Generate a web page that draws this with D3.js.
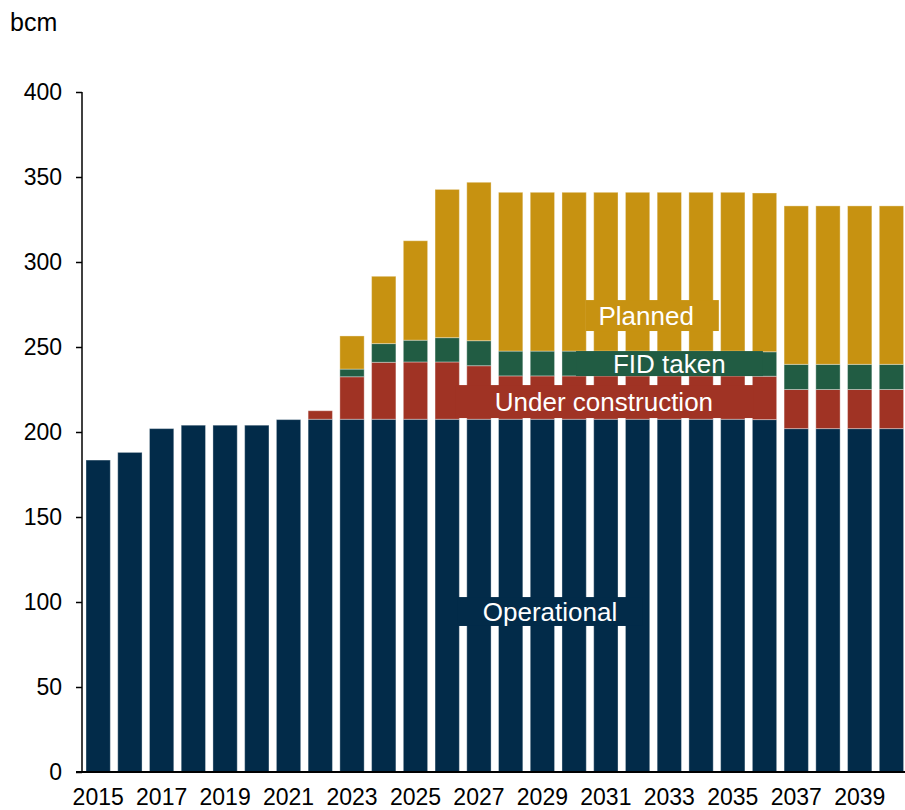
<!DOCTYPE html>
<html>
<head>
<meta charset="utf-8">
<script src="https://cdn.jsdelivr.net/npm/d3@7"></script>
<style>
html,body{margin:0;padding:0;background:#fff;}
svg{display:block;font-family:"Liberation Sans",Arial,sans-serif;}
</style>
</head>
<body>
<svg id="chart" width="905" height="810"></svg>
<script>
const years = d3.range(2015, 2041).map(String);
const operational = [183.5,188,202,204,204,204,207.3,207.5,207.5,207.5,207.5,207.5,207.5,207.5,207.5,207.5,207.5,207.5,207.5,207.5,207.5,207.3,202,202,202,202];
const underConstruction = [0,0,0,0,0,0,0,5,25,33.5,33.7,33.7,31.5,25.5,25.5,25.5,25.5,25.5,25.5,25.5,25.5,25.5,23,23,23,23];
const fidTaken = [0,0,0,0,0,0,0,0,4.5,11,12.8,14.3,14.7,14.6,14.6,14.6,14.6,14.6,14.6,14.6,14.6,14.4,14.8,14.8,14.8,14.8];
const planned = [0,0,0,0,0,0,0,0,19.5,39.6,58.5,87.2,93.2,93.4,93.4,93.4,93.4,93.4,93.4,93.4,93.4,93.4,93.2,93.2,93.2,93.2];
const seriesNames = ["Operational","Under construction","FID taken","Planned"];
const seriesColors = ["#022b49","#a03324","#215c43","#c79211"];
const yTicks = [0,50,100,150,200,250,300,350,400];
const xTickLabels = years.filter((d,i)=>i%2===0);
const unitLabel = "bcm";
// label boxes: centre index, extents in bar-index units, value extents
const seriesLabels = [
  {name:"Planned", i0:15.37, i1:19.56, ic:17.27, v0:259.4, v1:277.6},
  {name:"FID taken", i0:15.06, i1:20.95, ic:18.0, v0:232.9, v1:247.6},
  {name:"Under construction", i0:11.25, i1:20.64, ic:15.94, v0:208.2, v1:227.6},
  {name:"Operational", i0:11.34, i1:17.14, ic:14.24, v0:85.9, v1:102.9}
];

const svg = d3.select("#chart");
const x = d3.scaleBand().domain(years).range([82.3, 907.3]).paddingInner(0.234).paddingOuter(0.117);
const y = d3.scaleLinear().domain([0,400]).range([772, 92]);

const table = years.map((yr,i)=>({year:yr, "Operational":operational[i], "Under construction":underConstruction[i], "FID taken":fidTaken[i], "Planned":planned[i]}));
const stacked = d3.stack().keys(seriesNames)(table);

svg.append("g").selectAll("g").data(stacked).join("g")
  .attr("fill",(d,i)=>seriesColors[i])
  .selectAll("rect").data(d=>d.filter(p=>p[1]-p[0]>0)).join("rect")
  .attr("x",d=>x(d.data.year))
  .attr("width",x.bandwidth())
  .attr("y",d=>y(d[1]))
  .attr("height",d=>y(d[0])-y(d[1]))
  .attr("stroke","rgba(255,255,255,0.35)")
  .attr("stroke-width",1);

// series labels
const idxX = v => x(years[0]) + x.bandwidth()/2 + v*x.step();
const lg = svg.append("g");
seriesLabels.forEach(l=>{
  const ci = seriesNames.indexOf(l.name);
  lg.append("rect")
    .attr("x", idxX(l.i0)).attr("width", idxX(l.i1)-idxX(l.i0))
    .attr("y", y(l.v1)).attr("height", y(l.v0)-y(l.v1))
    .attr("fill", seriesColors[ci]);
  lg.append("text")
    .attr("x", idxX(l.ic))
    .attr("y", (y(l.v0)+y(l.v1))/2 + 0.36*26)
    .attr("text-anchor","middle")
    .attr("font-size",26)
    .attr("fill","#ffffff")
    .text(l.name);
});

// y axis
const yAxis = svg.append("g").attr("transform","translate(82,0)")
  .call(d3.axisLeft(y).tickValues(yTicks).tickSize(6).tickPadding(14).tickFormat(d3.format("d")));
yAxis.select(".domain").attr("stroke","#000").attr("stroke-width",1.5).attr("d","M0,92V772");
yAxis.selectAll(".tick line").attr("stroke","#000").attr("stroke-width",1.5);
yAxis.selectAll("text").attr("font-size",23).attr("fill","#000").attr("font-family","Liberation Sans, Arial, sans-serif");

// x axis
const xAxis = svg.append("g").attr("transform","translate(0,772)")
  .call(d3.axisBottom(x).tickValues(xTickLabels).tickSize(0).tickPadding(17));
xAxis.select(".domain").remove();
xAxis.selectAll("text").attr("font-size",23).attr("fill","#000").attr("font-family","Liberation Sans, Arial, sans-serif");
svg.append("line").attr("x1",76).attr("x2",905).attr("y1",772).attr("y2",772)
  .attr("stroke","#000").attr("stroke-width",2);

svg.append("text").attr("x",10).attr("y",31).attr("font-size",25).attr("fill","#000").text(unitLabel);
</script>
</body>
</html>
